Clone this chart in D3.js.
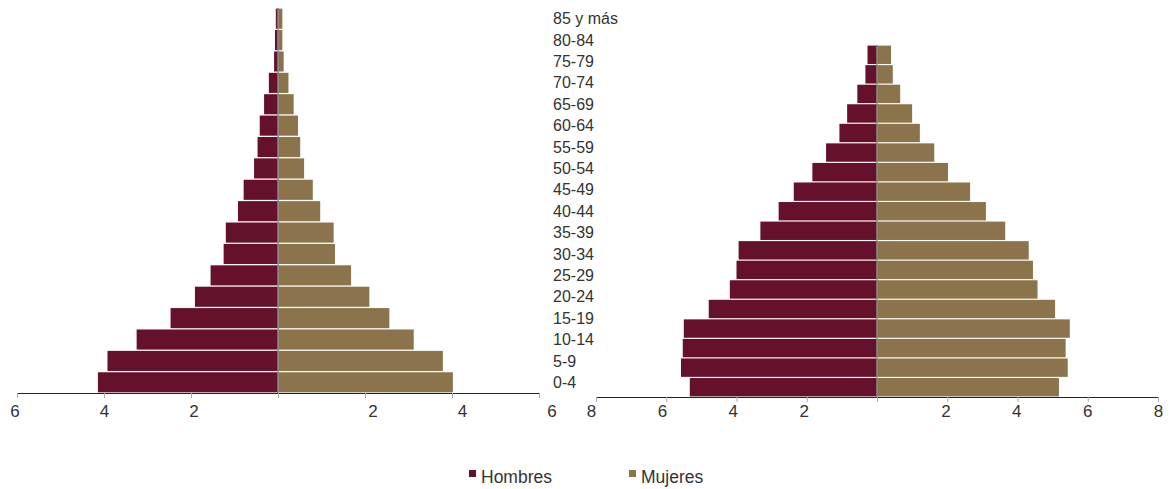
<!DOCTYPE html>
<html>
<head>
<meta charset="utf-8">
<script src="https://cdn.jsdelivr.net/npm/d3@7"></script>
<style>
  html, body { margin: 0; padding: 0; background: #fff; }
  svg { display: block; font-family: "Liberation Sans", Arial, Helvetica, sans-serif; }
</style>
</head>
<body>
<svg id="chart" width="1170" height="489"></svg>
<script>
// Age groups, bottom to top
const ageGroups = ["0-4","5-9","10-14","15-19","20-24","25-29","30-34","35-39","40-44","45-49","50-54","55-59","60-64","65-69","70-74","75-79","80-84","85 y más"];

// Left pyramid (percent)
const leftMen   = [4.14, 3.92, 3.25, 2.47, 1.91, 1.55, 1.25, 1.20, 0.92, 0.79, 0.55, 0.47, 0.42, 0.32, 0.21, 0.09, 0.07, 0.05];
const leftWomen = [4.02, 3.79, 3.12, 2.56, 2.10, 1.68, 1.31, 1.28, 0.97, 0.80, 0.60, 0.51, 0.46, 0.36, 0.24, 0.13, 0.10, 0.10];

// Right pyramid (percent)
const rightMen   = [5.33, 5.58, 5.53, 5.50, 4.79, 4.19, 4.00, 3.94, 3.32, 2.80, 2.37, 1.84, 1.45, 1.07, 0.85, 0.56, 0.33, 0.27];
const rightWomen = [5.18, 5.43, 5.37, 5.49, 5.07, 4.57, 4.44, 4.32, 3.65, 3.10, 2.65, 2.02, 1.63, 1.22, 1.00, 0.66, 0.45, 0.40];

const leftTicks  = [-6, -4, -2, 0, 2, 4, 6];
const rightTicks = [-8, -6, -4, -2, 0, 2, 4, 6, 8];
const seriesNames = ["Hombres", "Mujeres"];

const menColor = "#65112b";
const womenColor = "#8b744b";
const textColor = "#333";

const svg = d3.select("#chart");

function pyramid(opts) {
  const g = svg.append("g");
  const x = d3.scaleLinear().domain(opts.domain).range(opts.xRange);
  const xl = d3.scaleLinear().domain(opts.domain).range(opts.labelRange);
  const y = d3.scaleBand().domain(ageGroups.slice().reverse()).range(opts.yRange).paddingInner(0.06).paddingOuter(0.03);
  const rows = ageGroups.map((a, i) => ({age: a, m: opts.men[i], w: opts.women[i]}));

  g.selectAll("rect.m").data(rows).join("rect")
    .attr("class", "m")
    .attr("x", d => x(-d.m)).attr("width", d => x(0) - x(-d.m))
    .attr("y", d => y(d.age)).attr("height", y.bandwidth())
    .attr("fill", menColor);
  g.selectAll("rect.w").data(rows).join("rect")
    .attr("class", "w")
    .attr("x", x(0)).attr("width", d => x(d.w) - x(0))
    .attr("y", d => y(d.age)).attr("height", y.bandwidth())
    .attr("fill", womenColor);

  // center axis
  const yb = opts.yRange[1];
  g.append("line")
    .attr("x1", x(0)).attr("x2", x(0))
    .attr("y1", opts.yRange[0]).attr("y2", yb)
    .attr("stroke", "#8a8a8a").attr("stroke-width", 1.5);

  // bottom axis ticks
  const axTicks = g.append("g").attr("transform", `translate(0,${yb})`)
    .call(d3.axisBottom(x).tickValues(opts.ticks).tickSize(5).tickSizeOuter(0).tickFormat(""));
  axTicks.select(".domain").attr("stroke", "#222").attr("stroke-width", 1.2);
  axTicks.selectAll(".tick line").attr("stroke", "#aaa");

  // bottom axis labels
  const axLab = g.append("g").attr("transform", `translate(0,${yb})`)
    .call(d3.axisBottom(xl).tickValues(opts.ticks.filter(t => t !== 0)).tickSize(0).tickPadding(opts.labelPad).tickFormat(d => Math.abs(d)));
  axLab.select(".domain").remove();
  axLab.selectAll("text").attr("font-size", 17).attr("fill", textColor)
    .attr("font-family", "Liberation Sans, Arial, sans-serif");
  return y;
}

const yLeft = pyramid({
  domain: [-6, 6], xRange: [17, 539], labelRange: [14.5, 551.5],
  yRange: [8, 393], men: leftMen, women: leftWomen, ticks: leftTicks, labelPad: 12
});

pyramid({
  domain: [-8, 8], xRange: [596, 1158], labelRange: [591, 1158],
  yRange: [45, 397], men: rightMen, women: rightWomen, ticks: rightTicks, labelPad: 8
});

// Age labels (aligned with the left pyramid rows)
svg.append("g").selectAll("text").data(ageGroups).join("text")
  .attr("x", 553)
  .attr("y", d => yLeft(d) + yLeft.bandwidth() / 2)
  .attr("dy", "0.35em")
  .attr("font-size", 16)
  .attr("fill", textColor)
  .text(d => d);

// Legend
const legendX = d3.scalePoint().domain(seriesNames).range([469, 629]);
const lg = svg.append("g").selectAll("g").data(seriesNames).join("g")
  .attr("transform", d => `translate(${legendX(d)},0)`);
lg.append("rect").attr("x", 0).attr("y", 470).attr("width", 7).attr("height", 7)
  .attr("fill", (d, i) => i === 0 ? menColor : womenColor);
lg.append("text").attr("x", 12).attr("y", 483).attr("font-size", 17.5).attr("fill", textColor).text(d => d);
</script>
</body>
</html>
